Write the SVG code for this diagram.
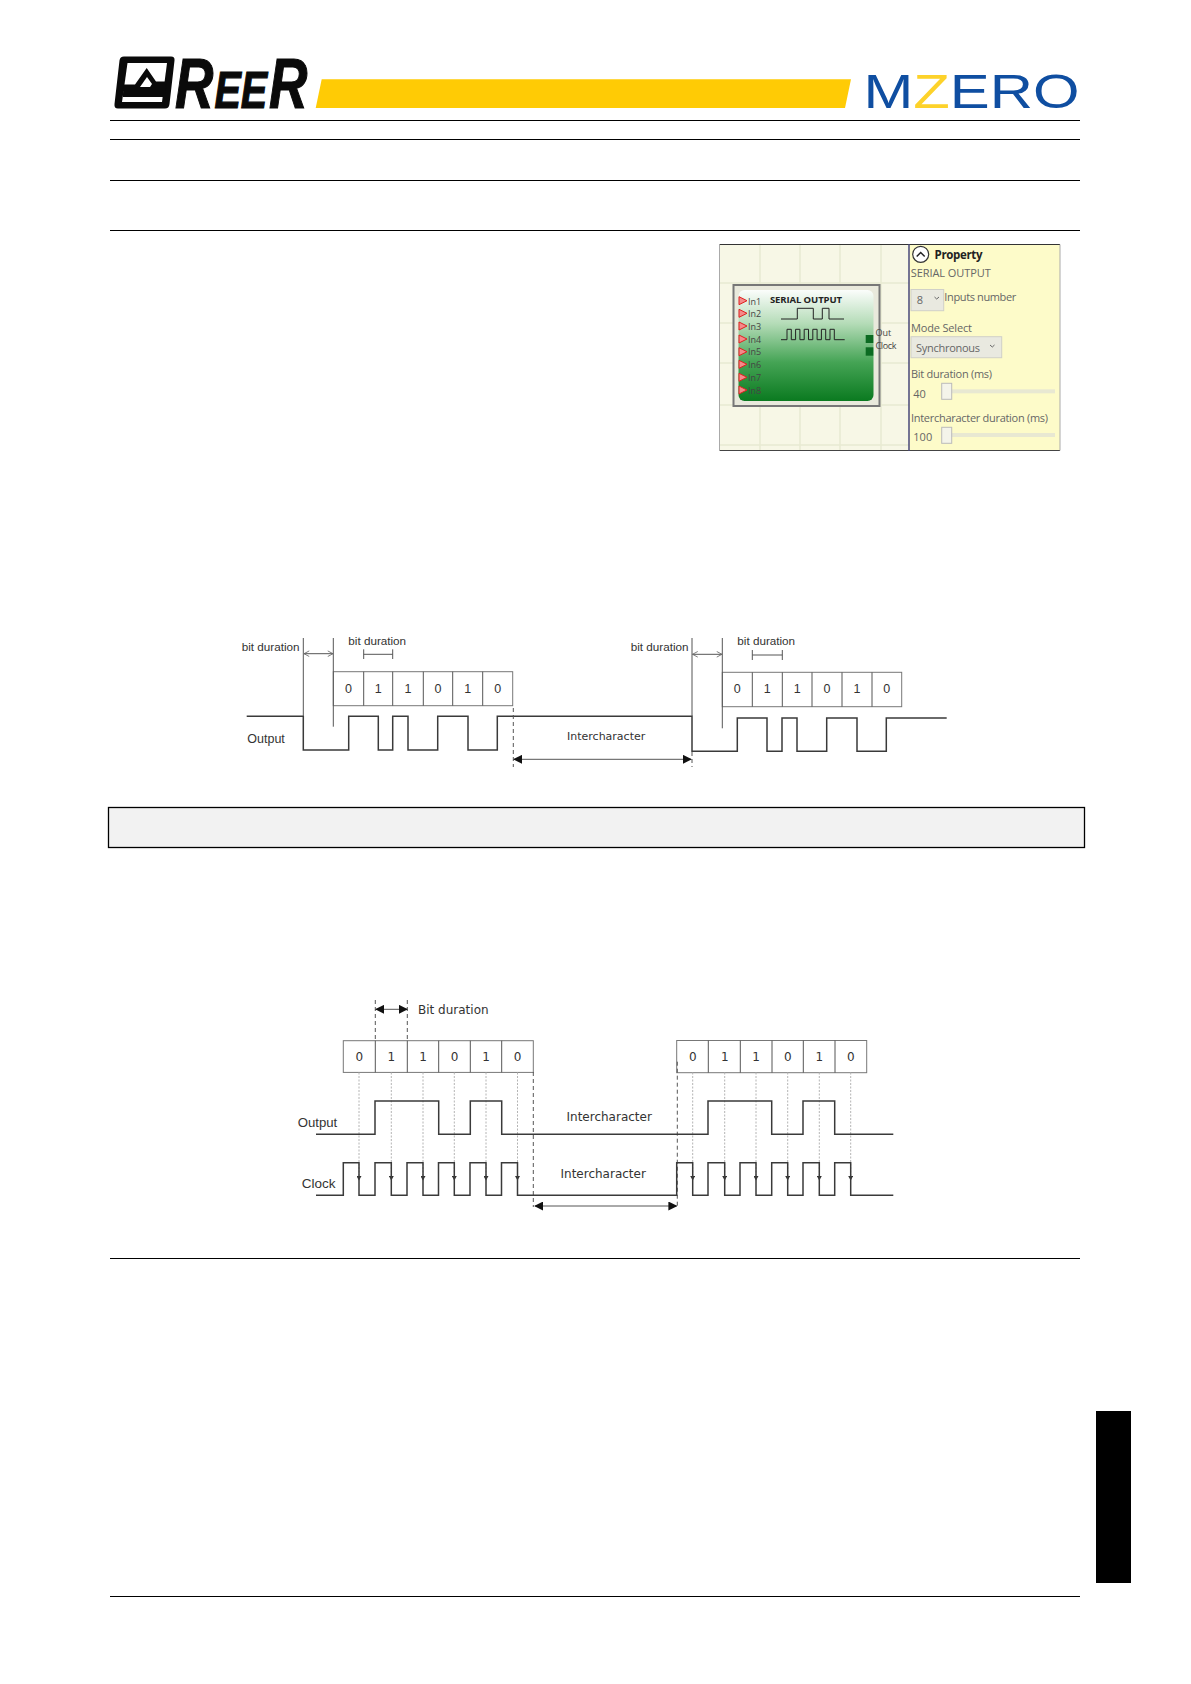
<svg xmlns="http://www.w3.org/2000/svg" width="1191" height="1684" viewBox="0 0 1191 1684">
<style>
.rule{stroke:#000;stroke-width:1.2;fill:none}
.wave{stroke:#3a3a3a;stroke-width:1.5;fill:none;stroke-linejoin:miter}
.thin{stroke:#555;stroke-width:1;fill:none}
.cell{stroke:#777;stroke-width:1;fill:#fff}
.dash{stroke:#555;stroke-width:1;stroke-dasharray:4 3;fill:none}
.guide{stroke:#b4b4b4;stroke-width:1;stroke-dasharray:2 1.5;fill:none}
.ar{font-family:"Liberation Sans",Arial,sans-serif;fill:#333}
.dv{font-family:"DejaVu Sans",sans-serif;fill:#333}
.dig{font-family:"Liberation Sans",Arial,sans-serif;fill:#333;font-size:12.5px;text-anchor:middle}
.dig2{font-family:"DejaVu Sans",sans-serif;fill:#333;font-size:12px;text-anchor:middle}
.ui{font-family:"Open Sans",sans-serif;fill:#666;font-size:11px}
.pin{font-family:"Open Sans",sans-serif;fill:#444;font-size:9px}
.grid{stroke:#e8ead2;stroke-width:1.5;fill:none}
.tri{fill:#f58a8a;stroke:#e02020;stroke-width:1}
.hnd{fill:#f4f4ea;stroke:#bbb;stroke-width:1}
.trk{fill:#e8e8d2}
.dd{fill:#e9e9e0;stroke:#d0d0c8;stroke-width:1}
.chev{fill:none;stroke:#666;stroke-width:1}
.logo{font-family:"Liberation Sans",Arial,sans-serif;font-weight:700;font-style:italic;fill:#0a0a0a;stroke:#0a0a0a;stroke-width:1.2}
.mz{font-family:"Liberation Sans",Arial,sans-serif;font-size:48.5px;fill:#0f4ea1}
</style>
<defs>
<linearGradient id="gr" x1="0" y1="0" x2="0" y2="1">
<stop offset="0" stop-color="#fbfdfb"/><stop offset="0.3" stop-color="#b5dcb8"/><stop offset="0.65" stop-color="#45a455"/><stop offset="1" stop-color="#0b7a20"/>
</linearGradient>
<marker id="fa" viewBox="0 0 10 10" refX="9" refY="5" markerWidth="9" markerHeight="9" markerUnits="userSpaceOnUse" orient="auto-start-reverse"><path d="M0 0L10 5L0 10Z" fill="#111"/></marker>
<marker id="oa" viewBox="0 0 10 10" refX="9.5" refY="5" markerWidth="7" markerHeight="7" markerUnits="userSpaceOnUse" orient="auto-start-reverse"><path d="M2 1L9.5 5L2 9" fill="none" stroke="#666" stroke-width="1.2"/></marker>
<marker id="sa" viewBox="0 0 10 10" refX="5" refY="9" markerWidth="5" markerHeight="5" markerUnits="userSpaceOnUse" orient="0"><path d="M0 1L10 1L5 10Z" fill="#333"/></marker>
</defs>
<rect width="1191" height="1684" fill="#fff"/>

<g id="header">
<path d="M124 56.500H171Q175 56.500 174.500 60.500L169.500 104Q169 108.500 165 108.500H118Q114 108.500 114.500 104L119.500 60.500Q120 56.500 124 56.500Z" fill="#0a0a0a"/>
<path d="M127.500 63H167L162 102H122Z" fill="#fff"/>
<path d="M123.500 84.500H135L146.700 68L156 81.500H167L165.500 94H123V97H163V94H123Z" fill="#0a0a0a"/>
<path d="M122 91H165L166 84H157L147 73L137 88H123Z" fill="#0a0a0a"/>
<path d="M140 87L147 77L152 84L150 87Z" fill="#fff"/>
<text class="logo" transform="translate(175 107.500) scale(0.76 1)" font-size="70">R</text>
<text class="logo" transform="translate(214.500 107.500) scale(0.76 1)" font-size="52">EE</text>
<text class="logo" transform="translate(269 107.500) scale(0.76 1)" font-size="70">R</text>
<path d="M321.700 79.300H851L845 108H315.700Z" fill="#ffcb05"/>
<text class="mz" x="863.500" y="107.700" textLength="216" lengthAdjust="spacingAndGlyphs">M<tspan fill="#fdd22a">Z</tspan>ERO</text>
</g>
<g id="rules">
<path class="rule" d="M110 120.500H1080M110 139.500H1080M110 180.500H1080M110 230.500H1080M110 1258.500H1080M110 1596.500H1080"/>
</g>

<g id="screenshot">
<rect x="719.500" y="244.500" width="340.500" height="206" fill="#f7f7e6"/>
<path class="grid" d="M760 245V450M800 245V450M840 245V450M881 245V450M720 283H909M720 323H909M720 363H909M720 405H909M720 445H909"/>
<rect x="909" y="244.500" width="151" height="206" fill="#fdfbc9"/>
<path d="M719.500 244.500H1060" stroke="#333" fill="none"/>
<path d="M719.500 450.500H1060" stroke="#444" fill="none"/>
<path d="M719.500 244.500V450.500M1060 244.500V450.500" stroke="#aaa" fill="none"/>
<path d="M909 244V451" stroke="#47477a" stroke-width="1.500" fill="none"/>
<g id="block">
<rect x="733.500" y="285" width="146" height="121" fill="#e9e9dc" stroke="#777" stroke-width="2"/>
<rect x="738.500" y="290" width="135" height="111" rx="6" fill="url(#gr)"/>
<text x="770" y="303" font-family="'Open Sans',sans-serif" font-weight="700" font-size="9.500" fill="#222" textLength="72">SERIAL OUTPUT</text>
<path d="M781 319H797.300V308.300H813.300V319H822.300V308.300H829V319H844" fill="none" stroke="#222" stroke-width="1"/>
<path d="M781 339.700H787V329.300H791.300V339.700H795.600V329.300H799.900V339.700H804.200V329.300H808.500V339.700H812.800V329.300H817.100V339.700H821.400V329.300H825.700V339.700H830V329.300H834.300V339.700H844.700" fill="none" stroke="#222" stroke-width="1"/>
<g id="pins">
<path class="tri" d="M739 296.700L747 300.700L739 304.700Z"/><path class="tri" d="M739 309.300L747 313.300L739 317.300Z"/><path class="tri" d="M739 322L747 326L739 330Z"/><path class="tri" d="M739 335L747 339L739 343Z"/><path class="tri" d="M739 347.700L747 351.700L739 355.700Z"/><path class="tri" d="M739 360.300L747 364.300L739 368.300Z"/><path class="tri" d="M739 373.300L747 377.300L739 381.300Z"/><path class="tri" d="M739 386L747 390L739 394Z"/>
<text class="pin" x="748" y="304.500">In1</text><text class="pin" x="748" y="317">In2</text><text class="pin" x="748" y="329.700">In3</text><text class="pin" x="748" y="342.700">In4</text><text class="pin" x="748" y="355.400">In5</text><text class="pin" x="748" y="368">In6</text><text class="pin" x="748" y="381">In7</text><text class="pin" x="748" y="393.700">In8</text>
</g>
<rect x="865.700" y="335" width="7.600" height="8" fill="#0c6b22"/>
<rect x="865.700" y="347.300" width="7.600" height="8.400" fill="#0c6b22"/>
<text class="pin" x="875.500" y="335.700">Out</text>
<text class="pin" x="875.500" y="349" textLength="21">Clock</text>
</g>
<g id="property">
<circle cx="920.700" cy="254.300" r="8" fill="#fff" stroke="#333" stroke-width="1.200"/>
<path d="M916.700 256.500L920.700 252.500L924.700 256.500" fill="none" stroke="#222" stroke-width="1.500"/>
<text x="934.500" y="259" font-family="'Open Sans',sans-serif" font-weight="700" font-size="11.500" fill="#222" textLength="48">Property</text>
<text class="ui" x="910.700" y="277.300" font-size="12" textLength="80">SERIAL OUTPUT</text>
<rect class="dd" x="911" y="289.500" width="32.700" height="21.200"/>
<text class="ui" x="916.700" y="304.300">8</text>
<path class="chev" d="M934.500 297L936.700 299L939 297"/>
<text class="ui" x="944.300" y="301" textLength="72">Inputs number</text>
<text class="ui" x="911" y="332.300" textLength="61">Mode Select</text>
<rect class="dd" x="911" y="336.700" width="90.700" height="21"/>
<text class="ui" x="916" y="351.700" textLength="64">Synchronous</text>
<path class="chev" d="M990 345L992.300 347L994.500 345"/>
<text class="ui" x="911" y="378.300" textLength="81">Bit duration (ms)</text>
<text class="ui" x="913.300" y="397.700">40</text>
<rect class="trk" x="951" y="389.300" width="104" height="4"/>
<rect class="hnd" x="941.700" y="383.300" width="10" height="16"/>
<text class="ui" x="911" y="422.300" textLength="137">Intercharacter duration (ms)</text>
<text class="ui" x="913.300" y="441">100</text>
<rect class="trk" x="951" y="433" width="104" height="4"/>
<rect class="hnd" x="941.700" y="427.300" width="10" height="16"/>
</g>
</g>

<g id="frame1">
<rect class="cell" x="333.300" y="671.700" width="179.400" height="34"/>
<path class="thin" stroke="#777" d="M363.700 671.700V705.700M392.700 671.700V705.700M423.300 671.700V705.700M452.700 671.700V705.700M482.700 671.700V705.700"/>
<text class="dig" x="348.500" y="692.700">0</text><text class="dig" x="378.200" y="692.700">1</text><text class="dig" x="408" y="692.700">1</text><text class="dig" x="438" y="692.700">0</text><text class="dig" x="467.700" y="692.700">1</text><text class="dig" x="497.700" y="692.700">0</text>
<text class="ar" x="241.700" y="651" font-size="11.700">bit duration</text>
<text class="ar" x="348.300" y="645" font-size="11.700">bit duration</text>
<text class="ar" x="247.300" y="743.300" font-size="12.500">Output</text>
<text class="dv" x="567" y="740" font-size="11">Intercharacter</text>
</g>
<g id="frame2">
<rect class="cell" x="722.300" y="672.300" width="179.400" height="34.400"/>
<path class="thin" stroke="#777" d="M752.300 672.300V706.700M782.300 672.300V706.700M812 672.300V706.700M842 672.300V706.700M872 672.300V706.700"/>
<text class="dig" x="737.300" y="693">0</text><text class="dig" x="767.300" y="693">1</text><text class="dig" x="797.200" y="693">1</text><text class="dig" x="827" y="693">0</text><text class="dig" x="857" y="693">1</text><text class="dig" x="886.800" y="693">0</text>
<text class="ar" x="630.700" y="651" font-size="11.700">bit duration</text>
<text class="ar" x="737.300" y="645" font-size="11.700">bit duration</text>
</g>
<g id="notice">
<rect x="108.500" y="807.500" width="976" height="40" fill="#f2f2f2" stroke="#000" stroke-width="1.300"/>
</g>
<g id="frame3">
<rect class="cell" x="343.300" y="1040.700" width="190" height="31.700"/>
<path class="thin" stroke="#777" d="M375.300 1040.700V1072.400M407.300 1040.700V1072.400M438.700 1040.700V1072.400M470.300 1040.700V1072.400M501.700 1040.700V1072.400"/>
<text class="dig2" x="359.300" y="1060.700">0</text><text class="dig2" x="391.300" y="1060.700">1</text><text class="dig2" x="423" y="1060.700">1</text><text class="dig2" x="454.500" y="1060.700">0</text><text class="dig2" x="486" y="1060.700">1</text><text class="dig2" x="517.500" y="1060.700">0</text>
<text class="dv" x="418" y="1013.500" font-size="12">Bit duration</text>
<text class="ar" x="297.700" y="1127.300" font-size="13.200">Output</text>
<text class="ar" x="301.700" y="1188" font-size="13.500">Clock</text>
<text class="dv" x="566.500" y="1120.700" font-size="12">Intercharacter</text>
<text class="dv" x="560.500" y="1178.300" font-size="12">Intercharacter</text>
</g>
<g id="frame4">
<rect class="cell" x="676.700" y="1040.500" width="190" height="32.200"/>
<path class="thin" stroke="#777" d="M708.300 1040.500V1072.700M740.300 1040.500V1072.700M772 1040.500V1072.700M803.300 1040.500V1072.700M835 1040.500V1072.700"/>
<text class="dig2" x="692.700" y="1060.700">0</text><text class="dig2" x="724.700" y="1060.700">1</text><text class="dig2" x="756" y="1060.700">1</text><text class="dig2" x="787.700" y="1060.700">0</text><text class="dig2" x="819.300" y="1060.700">1</text><text class="dig2" x="850.700" y="1060.700">0</text>
</g>

<g id="connectors">
<path class="wave" d="M246.700 716.300H303.300V750H348.700V716.300H378.300V750H392.700V716.300H408V750H437.700V716.300H468V750H497.300V716.300H692V751.300H737.300V718H767V751.300H782V718H797V751.300H826.700V718H857V751.300H886.300V718H946.700"/>
<path class="thin" d="M303.300 638V716M333.300 638V726.700M692 638V716M722.300 638V728.300"/>
<path class="thin" d="M363.700 649.300V659M392.700 649.300V659M363.700 654.300H392.700M752.300 650V660M782.300 650V660M752.300 655H782.300"/>
<path class="thin" stroke="#888" marker-start="url(#oa)" marker-end="url(#oa)" d="M304 653.700H333"/>
<path class="thin" stroke="#888" marker-start="url(#oa)" marker-end="url(#oa)" d="M692.500 654.300H722"/>
<path class="dash" d="M513.300 708V767M692 752V767"/>
<path class="thin" stroke="#111" marker-start="url(#fa)" marker-end="url(#fa)" d="M514 759.300H691"/>
<path class="dash" d="M375.300 1000V1040M407.300 1000V1040M533.300 1072V1207M677.300 1061.700V1208"/>
<path class="thin" stroke="#111" marker-start="url(#fa)" marker-end="url(#fa)" d="M376 1009.300H407"/>
<path class="thin" stroke="#111" marker-start="url(#fa)" marker-end="url(#fa)" d="M535 1206H676.500"/>
<path class="guide" marker-end="url(#sa)" d="M359 1072.500V1180"/><path class="guide" marker-end="url(#sa)" d="M391.300 1072.500V1180"/><path class="guide" marker-end="url(#sa)" d="M423 1072.500V1180"/><path class="guide" marker-end="url(#sa)" d="M454.300 1072.500V1180"/><path class="guide" marker-end="url(#sa)" d="M486 1072.500V1180"/><path class="guide" marker-end="url(#sa)" d="M517.500 1072.500V1180"/>
<path class="guide" marker-end="url(#sa)" d="M692.700 1072.500V1180"/><path class="guide" marker-end="url(#sa)" d="M724.700 1072.500V1180"/><path class="guide" marker-end="url(#sa)" d="M756 1072.500V1180"/><path class="guide" marker-end="url(#sa)" d="M787.700 1072.500V1180"/><path class="guide" marker-end="url(#sa)" d="M819.300 1072.500V1180"/><path class="guide" marker-end="url(#sa)" d="M850.700 1072.500V1180"/>
<path class="wave" d="M316 1134.300H375V1101H438.700V1134.300H470.300V1101H501.700V1134.300H708V1101H771.700V1134.300H803V1101H834.700V1134.300H893.300"/>
<path class="wave" d="M316 1195.300H343.300V1162.700H359V1195.300H375V1162.700H391.300V1195.300H407V1162.700H423V1195.300H438.500V1162.700H454.300V1195.300H470V1162.700H486V1195.300H501.500V1162.700H517.500V1195.300H676.700V1162.700H692.700V1195.300H708V1162.700H724.700V1195.300H740V1162.700H756V1195.300H771.700V1162.700H787.700V1195.300H803V1162.700H819.300V1195.300H834.700V1162.700H850.700V1195.300H893.300"/>
</g>

<g id="tab">
<rect x="1096" y="1411" width="35" height="172" fill="#000"/>
</g>
</svg>
